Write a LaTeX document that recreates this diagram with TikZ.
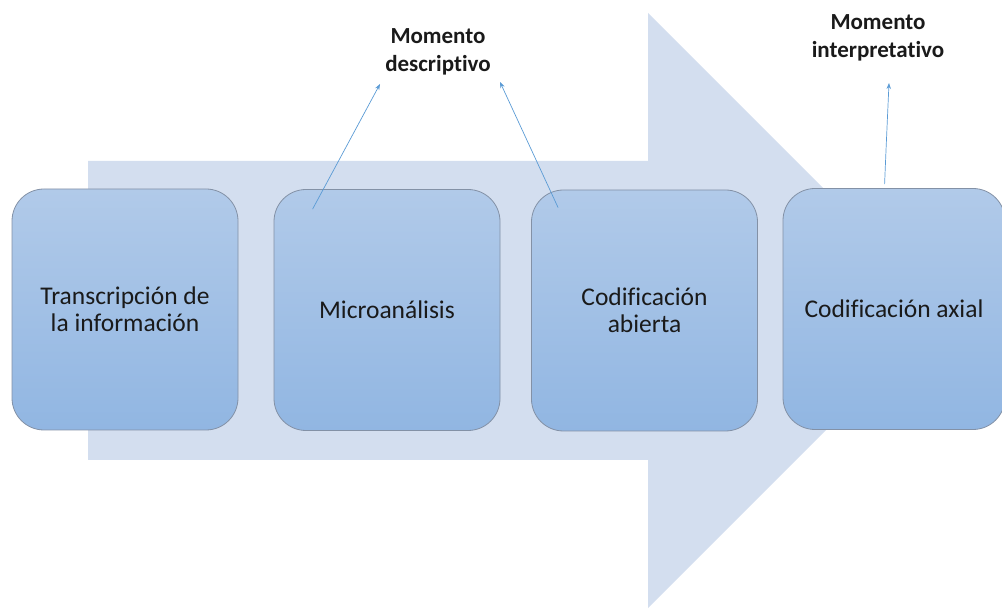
\documentclass[tikz,border=0pt]{standalone}
\usepackage{fontspec}
\setmainfont{Carlito}[Ligatures={NoCommon}]
\usetikzlibrary{arrows.meta,calc}
\definecolor{bgarrow}{HTML}{D3DEEF}
\definecolor{boxtop}{HTML}{B1CAE9}
\definecolor{boxbot}{HTML}{91B6E2}
\definecolor{boxline}{HTML}{8391A6}
\definecolor{linkblue}{HTML}{5B9BD5}
\definecolor{txt}{HTML}{1A1A1A}
\tikzset{
  stagebox/.style={draw=boxline, line width=0.8pt, rounded corners=32pt,
    top color=boxtop, bottom color=boxbot, minimum height=241pt,
    align=center, text=txt, font=\fontsize{25.5}{27}\selectfont},
  momentlabel/.style={align=center, text=txt, font=\bfseries\fontsize{23}{28}\selectfont, inner sep=0pt},
  link/.style={draw=linkblue, line width=0.7pt, -{Stealth[length=6pt,width=4.5pt]}}
}
\begin{document}
\begin{tikzpicture}[x=1pt,y=-1pt]
\useasboundingbox (0,0) rectangle (1002,609);
% big background arrow
\fill[bgarrow] (88,161) -- (648,161) -- (648,13) -- (945.5,310.5) -- (648,608) -- (648,460) -- (88,460) -- cycle;
% stage boxes
\node[stagebox, minimum width=226pt] (b1) at (125,309.5) {Transcripción de\\la información};
\node[stagebox, minimum width=226pt] (b2) at (387,310) {Microanálisis};
\node[stagebox, minimum width=226pt] (b3) at (644.5,310.5) {Codificación\\abierta};
\node[stagebox, minimum width=222pt] (b4) at (894,309) {Codificación axial};
% labels
\node[momentlabel] (m1) at (438,52) {Momento\\descriptivo};
\node[momentlabel] (m2) at (878,38) {Momento\\interpretativo};
% link end points
\coordinate (s1) at ($(b2.north west)+(39,20)$);
\coordinate (s2) at ($(b3.north west)+(27,18)$);
\coordinate (s3) at ($(b4.north west)+(102,-4)$);
\coordinate (e1) at (380,84);
\coordinate (e2) at (500,82);
\coordinate (e3) at (889,83);
\draw[link] (s1) -- (e1);
\draw[link] (s2) -- (e2);
\draw[link] (s3) .. controls (886,150) .. (e3);
\end{tikzpicture}
\end{document}
